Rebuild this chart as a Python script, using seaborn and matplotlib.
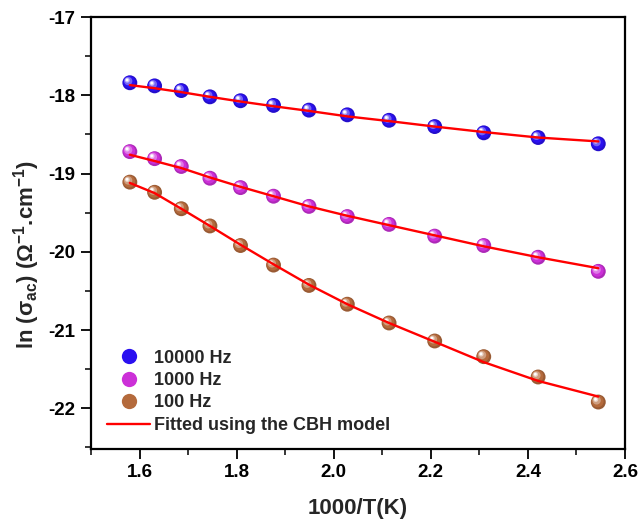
import numpy as np
import pandas as pd
import matplotlib
matplotlib.use("Agg")
import matplotlib.pyplot as plt
import matplotlib.transforms as mtransforms
from matplotlib.lines import Line2D
from matplotlib.colors import to_rgb
import seaborn as sns

# ---------------- data ----------------
x_vals = [1.580, 1.631, 1.686, 1.745, 1.808, 1.876, 1.949, 2.028, 2.114, 2.208, 2.309, 2.421, 2.545]
y_10000 = [-17.84, -17.88, -17.94, -18.02, -18.07, -18.13, -18.19, -18.25, -18.32, -18.40, -18.48, -18.54, -18.62]
y_1000 = [-18.72, -18.81, -18.91, -19.06, -19.18, -19.29, -19.42, -19.55, -19.65, -19.80, -19.92, -20.07, -20.25]
y_100 = [-19.11, -19.24, -19.45, -19.67, -19.92, -20.17, -20.43, -20.67, -20.91, -21.14, -21.34, -21.60, -21.92]
fit_10000 = [-17.87, -17.91, -17.96, -18.02, -18.08, -18.14, -18.20, -18.27, -18.33, -18.40, -18.47, -18.54, -18.59]
fit_1000 = [-18.76, -18.84, -18.93, -19.05, -19.17, -19.29, -19.42, -19.54, -19.66, -19.79, -19.93, -20.07, -20.21]
fit_100 = [-19.12, -19.25, -19.45, -19.67, -19.91, -20.16, -20.42, -20.67, -20.91, -21.15, -21.41, -21.65, -21.85]
series_names = ["10000 Hz", "1000 Hz", "100 Hz"]
fit_label = "Fitted using the CBH model"
x_ticks = [1.6, 1.8, 2.0, 2.2, 2.4, 2.6]
y_ticks = [-22, -21, -20, -19, -18, -17]

colors = {"10000 Hz": "#2a10f0", "1000 Hz": "#cc30d8", "100 Hz": "#b46a3c"}

df = pd.DataFrame({
    "x": x_vals * 3,
    "y": y_10000 + y_1000 + y_100,
    "fit": fit_10000 + fit_1000 + fit_100,
    "freq": [n for n in series_names for _ in x_vals],
})

# ---------------- style ----------------
sns.set_theme(style="ticks")
plt.rcParams["font.family"] = ["Liberation Sans", "DejaVu Sans"]
plt.rcParams["font.weight"] = "bold"
plt.rcParams["mathtext.fontset"] = "custom"
plt.rcParams["mathtext.rm"] = "Liberation Sans"
plt.rcParams["mathtext.it"] = "Liberation Sans"
plt.rcParams["mathtext.bf"] = "Liberation Sans:bold"

fig = plt.figure(figsize=(6.4, 5.21), dpi=100)
ax = fig.add_axes([91 / 640, 1 - 449 / 521, (625 - 91) / 640, (449 - 17) / 521])

def mix(c, w):
    r = np.array(to_rgb(c))
    return tuple(r + (1 - r) * w)

def shade(c, f):
    return tuple(np.array(to_rgb(c)) * f)

# base markers via seaborn
sns.scatterplot(data=df, x="x", y="y", hue="freq", palette={k: shade(v, 0.85) for k, v in colors.items()},
                s=115, edgecolor="none", legend=False, ax=ax, zorder=3)

# sphere shading layers
layers = [(75, 0.0, -0.5, 0.5), (36, 0.35, -1.2, 1.2), (12, 0.7, -1.8, 1.8), (4, 1.0, -2.0, 2.0)]
for name in series_names:
    sub = df[df["freq"] == name]
    for s, w, dx, dy in layers:
        tr = ax.transData + mtransforms.ScaledTranslation(dx / 72, dy / 72, fig.dpi_scale_trans)
        ax.scatter(sub["x"], sub["y"], s=s, color=mix(colors[name], w), edgecolor="none",
                   transform=tr, zorder=4)

# fitted curves
for name in series_names:
    sub = df[df["freq"] == name]
    sns.lineplot(data=sub, x="x", y="fit", color="#ff0000", linewidth=1.7, ax=ax, zorder=5,
                 legend=False, sort=True)

ax.set_xlim(1.5, 2.6)
ax.set_ylim(-22.52, -17)
ax.set_xticks(x_ticks)
ax.set_xticklabels([f"{t:.1f}" for t in x_ticks])
ax.set_yticks(y_ticks)
ax.set_yticklabels([f"{t:d}" for t in y_ticks])
ax.set_xticks(np.arange(1.5, 2.61, 0.1), minor=True)
ax.set_yticks(np.arange(-22.5, -16.9, 0.5), minor=True)
ax.tick_params(axis="both", which="major", direction="out", length=7, width=1.3, labelsize=13.5,
               colors="black", pad=4)
ax.tick_params(axis="both", which="minor", direction="out", length=4, width=1.3)
for lab in ax.get_xticklabels() + ax.get_yticklabels():
    lab.set_fontweight("bold")
for sp in ax.spines.values():
    sp.set_linewidth(1.6)
    sp.set_color("black")
    sp.set_visible(True)

ax.set_xlabel("1000/T(K)", fontsize=16, fontweight="bold", labelpad=12)
ax.set_ylabel(r"ln ($\sigma_{\rm ac}$) ($\Omega^{-1}$.cm$^{-1}$)", fontsize=16, fontweight="bold")
ax.yaxis.set_label_coords(-0.092, 0.45)

handles = [Line2D([], [], marker="o", ls="", color=colors[n], markersize=11, markeredgewidth=0)
           for n in series_names]
handles.append(Line2D([], [], color="#ff0000", linewidth=1.7))
leg = ax.legend(handles, series_names + [fit_label], loc="lower left", bbox_to_anchor=(0.03, 0.035),
                frameon=False, fontsize=13, handlelength=2.4, handletextpad=0.2, labelspacing=0.3,
                borderpad=0, borderaxespad=0)
for t in leg.get_texts():
    t.set_fontweight("bold")

fig.savefig("out.png", dpi=100)
